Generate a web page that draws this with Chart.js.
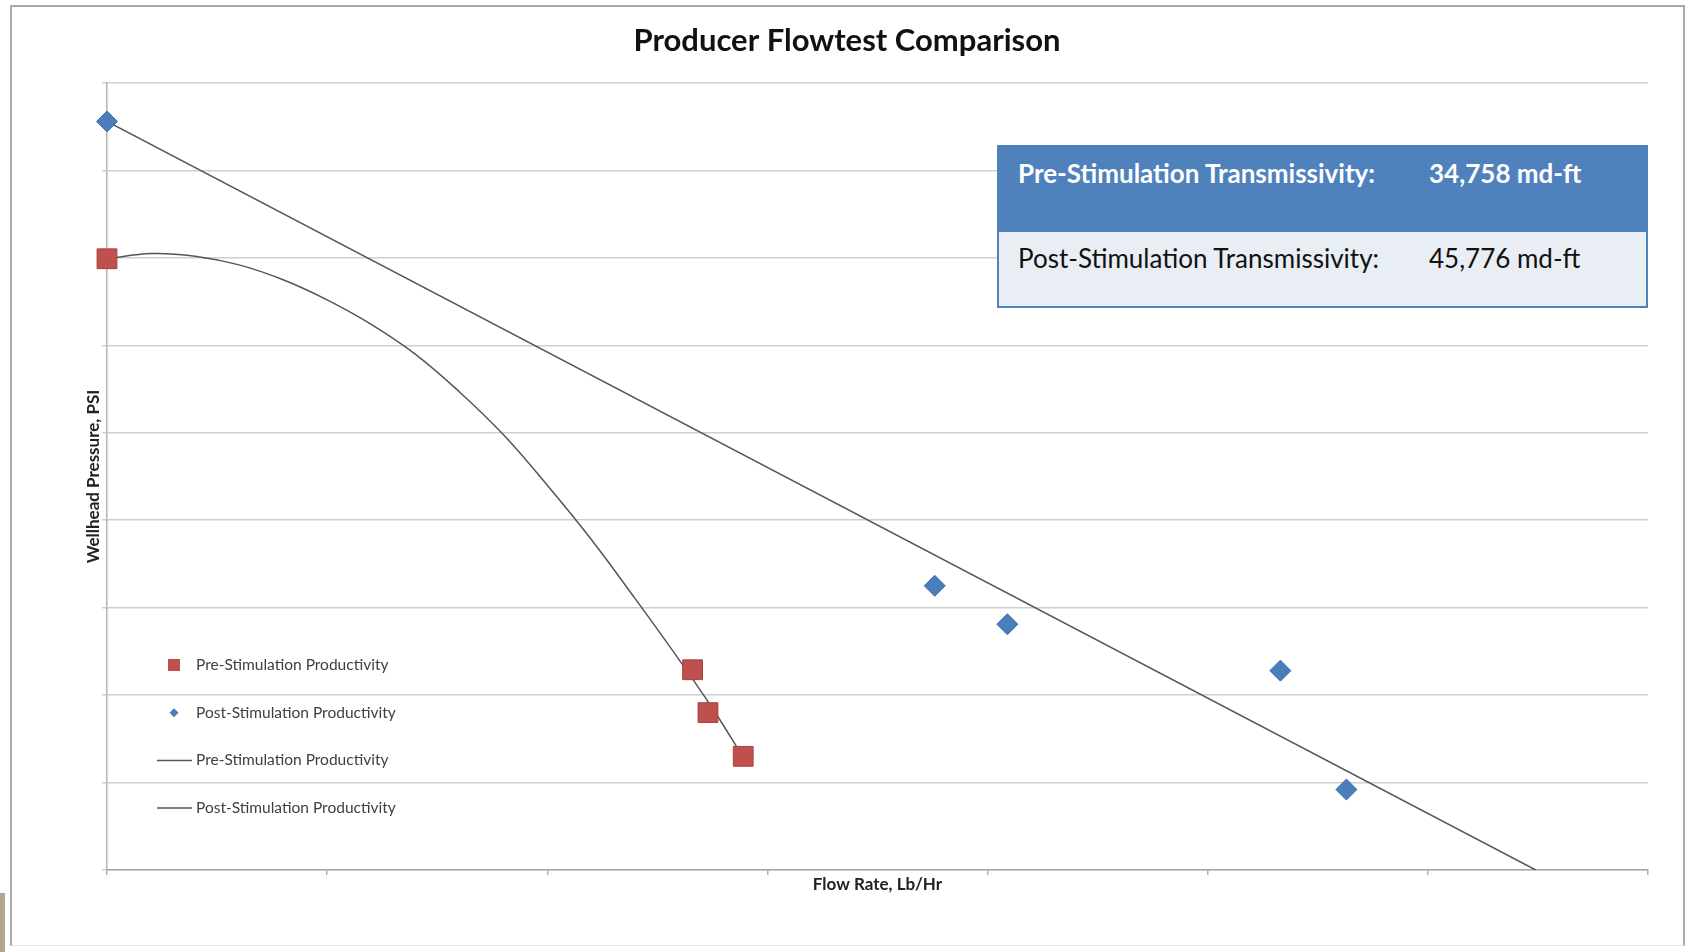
<!DOCTYPE html>
<html>
<head>
<meta charset="utf-8">
<script src="https://cdn.jsdelivr.net/npm/chart.js@4.4.1/dist/chart.umd.min.js"></script>
<style>
  html, body { margin: 0; padding: 0; background: #ffffff; width: 1685px; height: 952px; overflow: hidden; }
  #frame { position: absolute; left: 10px; top: 5px; width: 1671px; height: 938px;
           border: 2px solid #a9a9a9; border-bottom: 1px solid #e2e2e2; box-sizing: content-box; }
  #tan { position: absolute; left: 0; top: 893px; width: 5px; height: 59px; background: #b4a58b; }
  #c { position: absolute; left: 0; top: 0; }
  #tbl { position: absolute; left: 997px; top: 145px; width: 647px; height: 159px;
         border: 2px solid #4f81bd; font-family: Lato, "Open Sans", sans-serif; font-size: 26px; }
  #tbl .hdr { position: absolute; left: 0; top: 0; width: 100%; height: 85px; background: #4f81bd; color: #ffffff; font-weight: bold; }
  #tbl .row { position: absolute; left: 0; top: 85px; width: 100%; height: 74px; background: #e9edf4; color: #111111; }
  #tbl span { position: absolute; white-space: nowrap; line-height: 30px; }
</style>
</head>
<body>
<div id="frame"></div>
<div id="tan"></div>
<canvas id="c" width="1685" height="952"></canvas>
<div id="tbl">
  <div class="hdr"><span id="h1" style="left:19px;top:11px"></span><span id="h2" style="left:430px;top:11px"></span></div>
  <div class="row"><span id="r1" style="left:19px;top:11px"></span><span id="r2" style="left:430px;top:11px"></span></div>
</div>
<script>
// ---------------- data (axis units are unlabeled) ----------------
const chartTitle = "Producer Flowtest Comparison";
const xAxisTitle = "Flow Rate, Lb/Hr";
const yAxisTitle = "Wellhead Pressure, PSI";

const seriesNames = ["Pre-Stimulation Productivity", "Post-Stimulation Productivity",
                     "Pre-Stimulation Productivity", "Post-Stimulation Productivity"];

// measured points
const preFlow      = [0.00, 2.66, 2.73, 2.89];
const prePressure  = [6.99, 2.29, 1.80, 1.30];
const postFlow     = [0.00, 3.76, 4.09, 5.33, 5.63];
const postPressure = [8.56, 3.25, 2.81, 2.28, 0.92];

// trend lines
const preTrendFlow      = [0.00, 0.20, 0.40, 0.60, 0.80, 1.00, 1.20, 1.40, 1.60, 1.80, 2.00, 2.20, 2.40, 2.60, 2.75, 2.89];
const preTrendPressure  = [6.99, 7.05, 7.02, 6.92, 6.75, 6.52, 6.24, 5.90, 5.47, 4.98, 4.40, 3.78, 3.10, 2.40, 1.85, 1.29];
const postTrendFlow     = [0.00, 6.49];
const postTrendPressure = [8.56, 0.00];

// table
const tableLabels = ["Pre-Stimulation Transmissivity:", "Post-Stimulation Transmissivity:"];
const tableValues = ["34,758 md-ft", "45,776 md-ft"];

// axis extents (no tick labels are shown)
const xMin = 0, xMax = 7, xStep = 1;
const yMin = 0, yMax = 9, yStep = 1;

// ---------------- build ----------------
document.getElementById('h1').textContent = tableLabels[0];
document.getElementById('h2').textContent = tableValues[0];
document.getElementById('r1').textContent = tableLabels[1];
document.getElementById('r2').textContent = tableValues[1];

const pts = (xs, ys) => xs.map((x, i) => ({ x: x, y: ys[i] }));
const FONT = "Lato, 'Open Sans', sans-serif";

const legendStyle = [
  { kind: 'point', pointStyle: 'rect', radius: 8.5 },
  { kind: 'point', pointStyle: 'rectRot', radius: 4.5 },
  { kind: 'line' },
  { kind: 'line' }
];

const legendPlugin = {
  id: 'insideLegend',
  afterDraw(chart) {
    const ctx = chart.ctx;
    const ca = chart.chartArea;
    const x0 = ca.left + 67, y0 = 665, dy = 47.7;
    ctx.save();
    ctx.font = "15.5px " + FONT;
    ctx.textBaseline = 'middle';
    chart.data.datasets.forEach((ds, i) => {
      const y = y0 + i * dy;
      const st = legendStyle[i];
      if (st.kind === 'line') {
        ctx.strokeStyle = ds.borderColor;
        ctx.lineWidth = 1.5;
        ctx.beginPath(); ctx.moveTo(x0 - 17, y); ctx.lineTo(x0 + 18, y); ctx.stroke();
      } else {
        ctx.fillStyle = ds.backgroundColor;
        ctx.strokeStyle = ds.borderColor;
        Chart.helpers.drawPoint(ctx, { pointStyle: st.pointStyle, radius: st.radius, borderWidth: 0 }, x0, y);
      }
      ctx.fillStyle = '#404040';
      ctx.fillText(ds.label, x0 + 22, y);
    });
    ctx.restore();
  }
};

new Chart(document.getElementById('c'), {
  type: 'scatter',
  data: {
    datasets: [
      { label: seriesNames[0], data: pts(preFlow, prePressure), pointStyle: 'rect', pointRadius: 14,
        backgroundColor: '#c0504d', borderColor: '#a8403d', borderWidth: 1, showLine: false, clip: false },
      { label: seriesNames[1], data: pts(postFlow, postPressure), pointStyle: 'rectRot', pointRadius: 10.5,
        backgroundColor: '#4a7ebb', borderColor: '#3f6ea8', borderWidth: 1, showLine: false, clip: false },
      { label: seriesNames[2], data: pts(preTrendFlow, preTrendPressure), showLine: true, pointRadius: 0,
        borderColor: '#555555', backgroundColor: '#555555', borderWidth: 1.5, tension: 0.4 },
      { label: seriesNames[3], data: pts(postTrendFlow, postTrendPressure), showLine: true, pointRadius: 0,
        borderColor: '#555555', backgroundColor: '#555555', borderWidth: 1.5, tension: 0 }
    ]
  },
  options: {
    responsive: false,
    animation: false,
    events: [],
    layout: { padding: { left: 46, top: 5, right: 37, bottom: 50 } },
    plugins: {
      legend: { display: false },
      tooltip: { enabled: false },
      title: {
        display: true, text: chartTitle, color: '#111111',
        font: { family: FONT, size: 31, weight: 'bold', lineHeight: 1.2 },
        padding: { top: 17.4, bottom: 23.4 }
      }
    },
    scales: {
      x: {
        type: 'linear', min: xMin, max: xMax,
        ticks: { display: false, stepSize: xStep },
        grid: { drawOnChartArea: false, drawTicks: true, tickLength: 5, color: '#b0b0b0', lineWidth: 1.5 },
        border: { color: '#a8a8a8', width: 1.5 },
        title: { display: true, text: xAxisTitle, color: '#222222',
                 font: { family: FONT, size: 17, weight: 'bold', lineHeight: 1.2 }, padding: { top: 0, bottom: 7 } },
        afterFit(scale) { scale.height = 32; }
      },
      y: {
        type: 'linear', min: yMin, max: yMax,
        ticks: { display: false, stepSize: yStep },
        grid: { drawOnChartArea: true, drawTicks: true, tickLength: 5, color: '#cfcfcf', lineWidth: 1.5 },
        border: { color: '#b4b4b4', width: 1.5 },
        title: { display: true, text: yAxisTitle, color: '#222222',
                 font: { family: FONT, size: 17, weight: 'bold', lineHeight: 1.2 }, padding: { top: 37, bottom: 0 } },
        afterFit(scale) { scale.width = 61; }
      }
    }
  },
  plugins: [legendPlugin]
});
</script>
</body>
</html>
